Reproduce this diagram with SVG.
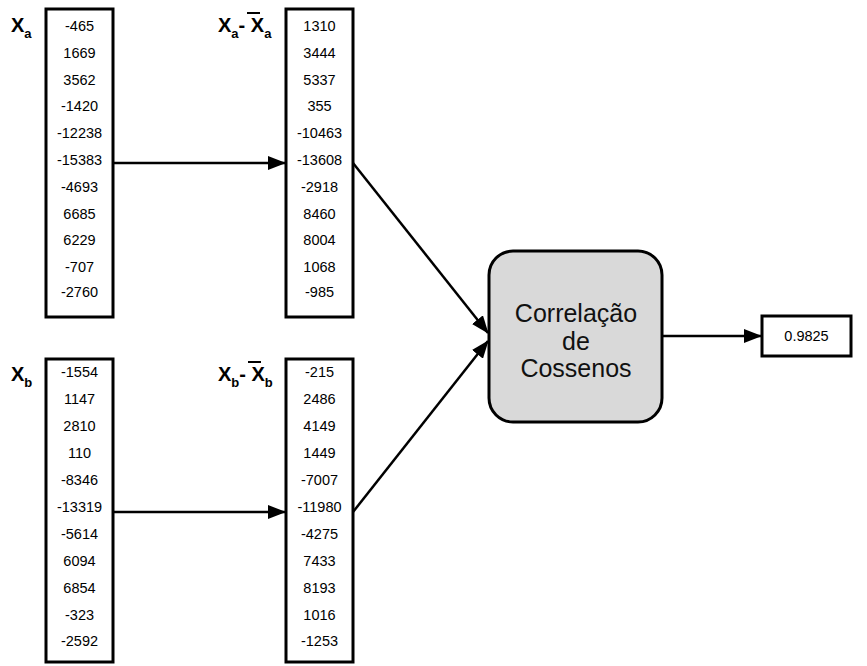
<svg xmlns="http://www.w3.org/2000/svg" width="867" height="666" viewBox="0 0 867 666">
<defs>
<style>
.col{fill:#fff;stroke:#000;stroke-width:3}
.v{font-family:"Liberation Sans",Arial,sans-serif;font-size:14.5px;fill:#000;text-anchor:middle}
.lbl{font-family:"Liberation Sans",Arial,sans-serif;font-weight:bold;font-size:20px;fill:#000}
.sub{font-size:13px}
.ln{stroke:#000;stroke-width:2.5;fill:none}
.big{font-family:"Liberation Sans",Arial,sans-serif;font-size:25px;fill:#111;text-anchor:middle}
</style>
<marker id="ahb" markerWidth="18" markerHeight="14" refX="17" refY="7" orient="auto" markerUnits="userSpaceOnUse" viewBox="0 0 18 14">
<path d="M0,0 L18,7 L0,14 z" fill="#000"/>
</marker>
</defs>
<rect width="867" height="666" fill="#fff"/>

<g id="label-xa">
<text class="lbl" x="11" y="32">X<tspan class="sub" dy="6">a</tspan></text>
</g>
<g id="label-xa-mean">
<text class="lbl" x="218" y="32">X<tspan class="sub" dy="6">a</tspan><tspan dy="-6">- X</tspan><tspan class="sub" dy="6">a</tspan></text>
<line x1="247" y1="13" x2="260" y2="13" stroke="#000" stroke-width="2"/>
</g>
<g id="label-xb">
<text class="lbl" x="11" y="381">X<tspan class="sub" dy="6">b</tspan></text>
</g>
<g id="label-xb-mean">
<text class="lbl" x="218" y="381">X<tspan class="sub" dy="6">b</tspan><tspan dy="-6">- X</tspan><tspan class="sub" dy="6">b</tspan></text>
<line x1="248" y1="362" x2="261" y2="362" stroke="#000" stroke-width="2"/>
</g>

<g id="col-xa">
<rect class="col" x="46" y="9" width="67" height="308"/>
<text class="v" x="79.5" y="31">-465</text>
<text class="v" x="79.5" y="57.8">1669</text>
<text class="v" x="79.5" y="84.6">3562</text>
<text class="v" x="79.5" y="111.4">-1420</text>
<text class="v" x="79.5" y="138.2">-12238</text>
<text class="v" x="79.5" y="165">-15383</text>
<text class="v" x="79.5" y="191.8">-4693</text>
<text class="v" x="79.5" y="218.6">6685</text>
<text class="v" x="79.5" y="245.4">6229</text>
<text class="v" x="79.5" y="272.2">-707</text>
<text class="v" x="79.5" y="297">-2760</text>
</g>

<g id="col-xa-mean">
<rect class="col" x="286" y="9" width="67" height="308"/>
<text class="v" x="319.5" y="31">1310</text>
<text class="v" x="319.5" y="57.8">3444</text>
<text class="v" x="319.5" y="84.6">5337</text>
<text class="v" x="319.5" y="111.4">355</text>
<text class="v" x="319.5" y="138.2">-10463</text>
<text class="v" x="319.5" y="165">-13608</text>
<text class="v" x="319.5" y="191.8">-2918</text>
<text class="v" x="319.5" y="218.6">8460</text>
<text class="v" x="319.5" y="245.4">8004</text>
<text class="v" x="319.5" y="272.2">1068</text>
<text class="v" x="319.5" y="297">-985</text>
</g>

<g id="col-xb">
<rect class="col" x="46" y="359" width="67" height="303"/>
<text class="v" x="79.5" y="377">-1554</text>
<text class="v" x="79.5" y="404">1147</text>
<text class="v" x="79.5" y="431">2810</text>
<text class="v" x="79.5" y="458">110</text>
<text class="v" x="79.5" y="485">-8346</text>
<text class="v" x="79.5" y="512">-13319</text>
<text class="v" x="79.5" y="539">-5614</text>
<text class="v" x="79.5" y="566">6094</text>
<text class="v" x="79.5" y="593">6854</text>
<text class="v" x="79.5" y="620">-323</text>
<text class="v" x="79.5" y="646">-2592</text>
</g>

<g id="col-xb-mean">
<rect class="col" x="286" y="359" width="67" height="303"/>
<text class="v" x="319.5" y="377">-215</text>
<text class="v" x="319.5" y="404">2486</text>
<text class="v" x="319.5" y="431">4149</text>
<text class="v" x="319.5" y="458">1449</text>
<text class="v" x="319.5" y="485">-7007</text>
<text class="v" x="319.5" y="512">-11980</text>
<text class="v" x="319.5" y="539">-4275</text>
<text class="v" x="319.5" y="566">7433</text>
<text class="v" x="319.5" y="593">8193</text>
<text class="v" x="319.5" y="620">1016</text>
<text class="v" x="319.5" y="646">-1253</text>
</g>

<g id="cosine">
<rect x="489" y="251" width="173" height="171" rx="24" ry="24" fill="#d9d9d9" stroke="#000" stroke-width="3"/>
<text class="big" x="576" y="322">Correlação</text>
<text class="big" x="576" y="350">de</text>
<text class="big" x="576" y="377">Cossenos</text>
</g>

<g id="result">
<rect x="762" y="316" width="89" height="40" fill="#fff" stroke="#000" stroke-width="3"/>
<text class="v" x="806.5" y="341">0.9825</text>
</g>

<g id="connectors">
<line class="ln" x1="113" y1="163" x2="285" y2="163" marker-end="url(#ahb)"/>
<line class="ln" x1="113" y1="512" x2="285" y2="512" marker-end="url(#ahb)"/>
<line class="ln" x1="353" y1="163" x2="488" y2="333" marker-end="url(#ahb)"/>
<line class="ln" x1="353" y1="512" x2="488" y2="341" marker-end="url(#ahb)"/>
<line class="ln" x1="662" y1="336" x2="761" y2="336" marker-end="url(#ahb)"/>
</g>
</svg>
